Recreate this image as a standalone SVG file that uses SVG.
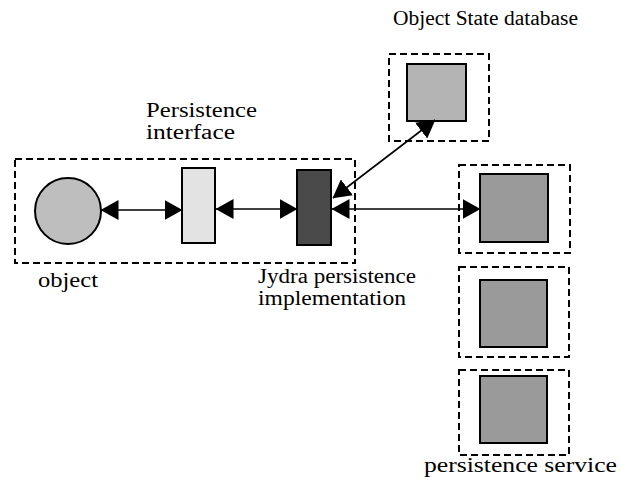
<svg xmlns="http://www.w3.org/2000/svg" width="621" height="483" viewBox="0 0 621 483">
  <style>
    .frame { fill: none; stroke: #000; stroke-width: 2; stroke-dasharray: 7 4; }
    .part { stroke: #000; stroke-width: 2; }
    .link { fill: none; stroke: #000; stroke-width: 1.6; marker-start: url(#head); marker-end: url(#head); }
    .label { font-family: "Liberation Serif", "DejaVu Serif", "Times New Roman", serif; font-size: 20px; fill: #000; }
  </style>
  <defs>
    <marker id="head" markerUnits="userSpaceOnUse" viewBox="0 0 18 20" refX="17.5" refY="10" markerWidth="18" markerHeight="20" orient="auto-start-reverse">
      <path d="M0,0 L18,10 L0,20 Z" fill="#000"/>
    </marker>
  </defs>
  <rect width="621" height="483" fill="#fff"/>

  <!-- client side: object, persistence interface, implementation -->
  <g id="client-frame">
    <rect class="frame" x="15" y="159" width="340" height="104"/>
  </g>
  <g id="object">
    <circle class="part" cx="68" cy="211" r="33" fill="#bebebe"/>
    <text class="label" x="38" y="287" textLength="60" lengthAdjust="spacingAndGlyphs">object</text>
  </g>
  <g id="persistence-interface">
    <rect class="part" x="182" y="168" width="33" height="75" fill="#e3e3e3"/>
    <text class="label" x="146" y="117" textLength="111" lengthAdjust="spacingAndGlyphs">Persistence</text>
    <text class="label" x="146" y="139" textLength="89" lengthAdjust="spacingAndGlyphs">interface</text>
  </g>
  <g id="jydra-implementation">
    <rect class="part" x="297" y="170" width="34" height="75" fill="#4a4a4a"/>
    <text class="label" x="258" y="283" textLength="158" lengthAdjust="spacingAndGlyphs">Jydra persistence</text>
    <text class="label" x="258" y="305" textLength="148" lengthAdjust="spacingAndGlyphs">implementation</text>
  </g>

  <!-- state store -->
  <g id="object-state-database">
    <rect class="frame" x="389" y="54" width="100" height="87"/>
    <rect class="part" x="407" y="64" width="59" height="57" fill="#b4b4b4"/>
    <text class="label" x="393" y="25" textLength="185" lengthAdjust="spacingAndGlyphs">Object State database</text>
  </g>

  <!-- persistence services -->
  <g id="service-1">
    <rect class="frame" x="459" y="165" width="111" height="88"/>
    <rect class="part" x="480" y="174" width="68" height="68" fill="#9a9a9a"/>
  </g>
  <g id="service-2">
    <rect class="frame" x="459" y="267" width="110" height="90"/>
    <rect class="part" x="480" y="280" width="67" height="67" fill="#9a9a9a"/>
  </g>
  <g id="service-3">
    <rect class="frame" x="459" y="370" width="110" height="85"/>
    <rect class="part" x="480" y="376" width="67" height="67" fill="#9a9a9a"/>
    <text class="label" x="424" y="472" textLength="193" lengthAdjust="spacingAndGlyphs">persistence service</text>
  </g>

  <g id="connectors">
    <line class="link" x1="101" y1="210" x2="182" y2="210"/>
    <line class="link" x1="216" y1="209" x2="297" y2="209"/>
    <line class="link" x1="332" y1="209" x2="480" y2="209"/>
    <line class="link" x1="333" y1="198" x2="435" y2="120"/>
  </g>
</svg>
